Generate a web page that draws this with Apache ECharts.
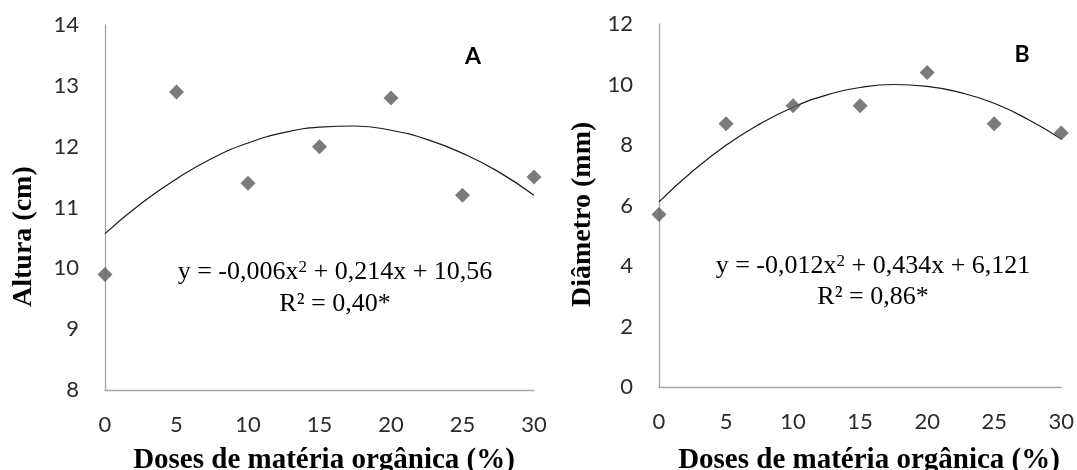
<!DOCTYPE html>
<html>
<head>
<meta charset="utf-8">
<script src="https://cdn.jsdelivr.net/npm/echarts@6/dist/echarts.min.js"></script>
<style>
html,body{margin:0;padding:0;background:#fff;}
#chart{width:1077px;height:470px;}
</style>
</head>
<body>
<div id="chart"></div>
<script>
// ---- data ----
const doses = [0, 5, 10, 15, 20, 25, 30];
const altura = [9.9, 12.9, 11.4, 12.0, 12.8, 11.2, 11.5];
const diametro = [5.7, 8.7, 9.3, 9.3, 10.4, 8.7, 8.4];
// fitted curves as drawn in the picture
const curveDoses = [0, 2.5, 5, 7.5, 10, 12.5, 15, 17.5, 20, 22.5, 25, 27.5, 30];
const alturaCurve = [10.57, 11.06, 11.47, 11.81, 12.06, 12.23, 12.32, 12.34, 12.27, 12.12, 11.89, 11.59, 11.20];
const diametroCurve = [6.12, 7.13, 7.99, 8.69, 9.25, 9.65, 9.90, 10.0, 9.94, 9.73, 9.38, 8.85, 8.20];
const xTitle = 'Doses de matéria orgânica (%)';
const yTitleA = 'Altura (cm)';
const yTitleB = 'Diâmetro (mm)';
const eqA = ['y = -0,006x{s|2} + 0,214x + 10,56', 'R² = 0,40*'];
const eqB = ['y = -0,012x{s|2} + 0,434x + 6,121', 'R² = 0,86*'];

const pairs = (xs, ys) => xs.map((x, i) => [x, ys[i]]);

const tickFont = { fontFamily: 'Lato', fontSize: 22, color: '#2b2b2b' };
const axisLine = { show: true, lineStyle: { color: '#a6a6a6', width: 1.3 } };
const serif = '"Liberation Serif", "Times New Roman", serif';

function xAxisDef(gi) {
  return {
    type: 'value', gridIndex: gi, min: 0, max: 30, interval: 5,
    axisLine: axisLine, axisTick: { show: false }, splitLine: { show: false },
    axisLabel: Object.assign({ margin: 24 }, tickFont)
  };
}
function yAxisDef(gi, min, max, interval) {
  return {
    type: 'value', gridIndex: gi, min: min, max: max, interval: interval,
    axisLine: axisLine, axisTick: { show: false }, splitLine: { show: false },
    axisLabel: Object.assign({ margin: 26 }, tickFont)
  };
}
function textEl(x, y, text, font, align, extra) {
  return {
    type: 'text', x: x, y: y, silent: true,
    style: Object.assign({
      text: text, font: font, fill: '#000',
      textAlign: align, align: align,
      textVerticalAlign: 'middle', verticalAlign: 'middle'
    }, extra || {})
  };
}
const eqFont = '26px ' + serif;
const supRich = { s: { fontSize: 17, fontFamily: 'Liberation Serif', verticalAlign: 'top', lineHeight: 26 } };

const option = {
  animation: false,
  backgroundColor: '#ffffff',
  grid: [
    { left: 105, top: 25, width: 429, height: 365 },
    { left: 659, top: 24, width: 405, height: 363 }
  ],
  xAxis: [xAxisDef(0), xAxisDef(1)],
  yAxis: [yAxisDef(0, 8, 14, 1), yAxisDef(1, 0, 12, 2)],
  series: [
    { type: 'line', xAxisIndex: 0, yAxisIndex: 0, data: pairs(curveDoses, alturaCurve),
      smooth: true, showSymbol: false, lineStyle: { color: '#1a1a1a', width: 1.2 }, z: 2 },
    { type: 'scatter', xAxisIndex: 0, yAxisIndex: 0, data: pairs(doses, altura),
      symbol: 'diamond', symbolSize: 15, clip: false, itemStyle: { color: '#5a5a5a' }, z: 3 },
    { type: 'line', xAxisIndex: 1, yAxisIndex: 1, data: pairs(curveDoses, diametroCurve),
      smooth: true, showSymbol: false, lineStyle: { color: '#1a1a1a', width: 1.2 }, z: 2 },
    { type: 'scatter', xAxisIndex: 1, yAxisIndex: 1, data: pairs(doses, diametro),
      symbol: 'diamond', symbolSize: 15, clip: false, itemStyle: { color: '#5a5a5a' }, z: 3 }
  ],
  graphic: [
    textEl(324, 461, xTitle, 'bold 29px ' + serif, 'center'),
    textEl(869, 461, xTitle, 'bold 29px ' + serif, 'center'),
    Object.assign(textEl(24, 307, yTitleA, 'bold 28px ' + serif, 'left'), { rotation: Math.PI / 2 }),
    Object.assign(textEl(583, 307, yTitleB, 'bold 28px ' + serif, 'left'), { rotation: Math.PI / 2 }),
    textEl(473, 57, 'A', 'bold 23px Lato', 'center'),
    textEl(1022, 55, 'B', 'bold 23px Lato', 'center'),
    textEl(335, 272, eqA[0], eqFont, 'center', { rich: supRich }),
    textEl(335, 304, eqA[1], eqFont, 'center'),
    textEl(873, 266, eqB[0], eqFont, 'center', { rich: supRich }),
    textEl(873, 297, eqB[1], eqFont, 'center')
  ]
};

const chart = echarts.init(document.getElementById('chart'), null, { renderer: 'canvas' });
chart.setOption(option);
</script>
</body>
</html>
